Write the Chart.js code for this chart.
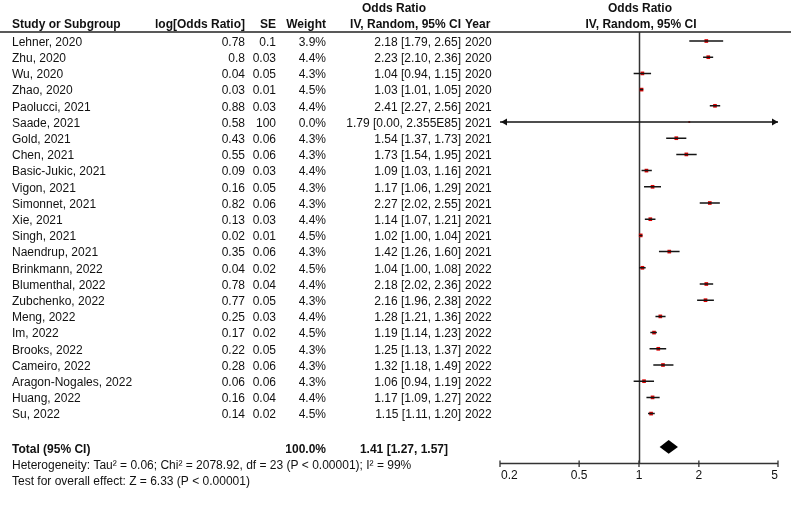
<!DOCTYPE html>
<html>
<head>
<meta charset="utf-8">
<script src="https://cdn.jsdelivr.net/npm/chart.js@4/dist/chart.umd.min.js"></script>
<style>
  html, body { margin: 0; padding: 0; background: #ffffff; }
  #wrap { width: 791px; height: 505px; position: relative; }
  canvas { display: block; }
</style>
</head>
<body>
<div id="wrap"><canvas id="c" width="791" height="505"></canvas></div>
<script>
const studies = ['Lehner, 2020','Zhu, 2020','Wu, 2020','Zhao, 2020','Paolucci, 2021','Saade, 2021','Gold, 2021','Chen, 2021','Basic-Jukic, 2021','Vigon, 2021','Simonnet, 2021','Xie, 2021','Singh, 2021','Naendrup, 2021','Brinkmann, 2022','Blumenthal, 2022','Zubchenko, 2022','Meng, 2022','Im, 2022','Brooks, 2022','Cameiro, 2022','Aragon-Nogales, 2022','Huang, 2022','Su, 2022'];
const logOR = [0.78,0.8,0.04,0.03,0.88,0.58,0.43,0.55,0.09,0.16,0.82,0.13,0.02,0.35,0.04,0.78,0.77,0.25,0.17,0.22,0.28,0.06,0.16,0.14];
const se = [0.1,0.03,0.05,0.01,0.03,100,0.06,0.06,0.03,0.05,0.06,0.03,0.01,0.06,0.02,0.04,0.05,0.03,0.02,0.05,0.06,0.06,0.04,0.02];
const weights = [3.9,4.4,4.3,4.5,4.4,0.0,4.3,4.3,4.4,4.3,4.3,4.4,4.5,4.3,4.5,4.4,4.3,4.4,4.5,4.3,4.3,4.3,4.4,4.5];
const oddsRatio = [2.18,2.23,1.04,1.03,2.41,1.79,1.54,1.73,1.09,1.17,2.27,1.14,1.02,1.42,1.04,2.18,2.16,1.28,1.19,1.25,1.32,1.06,1.17,1.15];
const ciLow = [1.79,2.10,0.94,1.01,2.27,0.00,1.37,1.54,1.03,1.06,2.02,1.07,1.00,1.26,1.00,2.02,1.96,1.21,1.14,1.13,1.18,0.94,1.09,1.11];
const ciHigh = [2.65,2.36,1.15,1.05,2.56,2.355e85,1.73,1.95,1.16,1.29,2.55,1.21,1.04,1.60,1.08,2.36,2.38,1.36,1.23,1.37,1.49,1.19,1.27,1.20];
const years = [2020,2020,2020,2020,2021,2021,2021,2021,2021,2021,2021,2021,2021,2021,2022,2022,2022,2022,2022,2022,2022,2022,2022,2022];
const totalOR = 1.41, totalLow = 1.27, totalHigh = 1.57;
const totalWeight = '100.0%';
const tickValues = [0.2, 0.5, 1, 2, 5];
const heterogeneityText = 'Heterogeneity: Tau\u00B2 = 0.06; Chi\u00B2 = 2078.92, df = 23 (P < 0.00001); I\u00B2 = 99%';
const overallText = 'Test for overall effect: Z = 6.33 (P < 0.00001)';

const X_MIN = 0.2, X_MAX = 5;
const FONT = '"Liberation Sans", Arial, Helvetica, sans-serif';
const INK = '#111111';

function fmtCI(v) {
  if (v >= 1e6) {
    const s = v.toExponential(3);
    return s.replace('e+', 'E').toUpperCase();
  }
  return v.toFixed(2);
}
function clampX(v) { return Math.min(X_MAX, Math.max(X_MIN, v)); }

const ciData = [];
studies.forEach((s, i) => {
  ciData.push({x: clampX(ciLow[i]), y: i});
  ciData.push({x: clampX(ciHigh[i]), y: i});
  ciData.push({x: NaN, y: null});
});
const pointData = studies.map((s, i) => ({x: oddsRatio[i], y: i}));
const pointRadii = weights.map(w => w > 0 ? 2.6 : 1.3);
const totalRow = studies.length + 1.15;

const tablePlugin = {
  id: 'forestTable',
  beforeDatasetsDraw(chart) {
    const ctx = chart.ctx, xs = chart.scales.x, area = chart.chartArea;
    ctx.save();
    ctx.strokeStyle = '#222';
    ctx.lineWidth = 1.3;
    ctx.beginPath();
    ctx.moveTo(0, area.top);
    ctx.lineTo(791, area.top);
    ctx.stroke();
    const x1 = Math.round(xs.getPixelForValue(1)) + 0.5;
    ctx.lineWidth = 1.5;
    ctx.strokeStyle = '#333';
    ctx.beginPath();
    ctx.moveTo(x1, area.top);
    ctx.lineTo(x1, area.bottom);
    ctx.stroke();
    ctx.restore();
  },
  afterDatasetsDraw(chart) {
    const ctx = chart.ctx, xs = chart.scales.x, ys = chart.scales.y, area = chart.chartArea;
    ctx.save();
    ctx.fillStyle = INK;
    ctx.textBaseline = 'middle';
    ctx.font = 'bold 12px ' + FONT;
    ctx.textAlign = 'left';
    ctx.fillText('Study or Subgroup', 12, 25);
    ctx.textAlign = 'right';
    ctx.fillText('log[Odds Ratio]', 245, 25);
    ctx.fillText('SE', 276, 25);
    ctx.fillText('Weight', 326, 25);
    ctx.fillText('IV, Random, 95% CI', 461, 25);
    ctx.textAlign = 'left';
    ctx.fillText('Year', 465, 25);
    ctx.textAlign = 'center';
    ctx.fillText('Odds Ratio', 394, 9);
    const xc = xs.getPixelForValue(1);
    ctx.fillText('Odds Ratio', xc + 1, 9);
    ctx.fillText('IV, Random, 95% CI', xc + 2, 25);

    ctx.font = '12px ' + FONT;
    studies.forEach((s, i) => {
      const y = ys.getPixelForValue(i) + 1.5;
      ctx.textAlign = 'left';
      ctx.fillText(s, 12, y);
      ctx.textAlign = 'right';
      ctx.fillText(String(logOR[i]), 245, y);
      ctx.fillText(String(se[i]), 276, y);
      ctx.fillText(weights[i].toFixed(1) + '%', 326, y);
      ctx.fillText(oddsRatio[i].toFixed(2) + ' [' + fmtCI(ciLow[i]) + ', ' + fmtCI(ciHigh[i]) + ']', 461, y);
      ctx.textAlign = 'left';
      ctx.fillText(String(years[i]), 465, y);
    });

    const ty = ys.getPixelForValue(totalRow) + 1.5;
    ctx.font = 'bold 12px ' + FONT;
    ctx.textAlign = 'left';
    ctx.fillText('Total (95% CI)', 12, ty);
    ctx.textAlign = 'right';
    ctx.fillText(totalWeight, 326, ty);
    ctx.fillText(totalOR.toFixed(2) + ' [' + totalLow.toFixed(2) + ', ' + totalHigh.toFixed(2) + ']', 448, ty);
    ctx.font = '12px ' + FONT;
    ctx.textAlign = 'left';
    ctx.fillText(heterogeneityText, 12, ty + 16);
    ctx.fillText(overallText, 12, ty + 31.5);

    const dy = ys.getPixelForValue(totalRow) - 1.5;
    const half = 6.8;
    ctx.fillStyle = '#000';
    ctx.beginPath();
    ctx.moveTo(xs.getPixelForValue(totalLow), dy);
    ctx.lineTo(xs.getPixelForValue(totalOR), dy - half);
    ctx.lineTo(xs.getPixelForValue(totalHigh), dy);
    ctx.lineTo(xs.getPixelForValue(totalOR), dy + half);
    ctx.closePath();
    ctx.fill();

    studies.forEach((s, i) => {
      const y = ys.getPixelForValue(i);
      ctx.fillStyle = '#111';
      if (ciLow[i] < X_MIN) {
        const x = xs.getPixelForValue(X_MIN) + 1;
        ctx.beginPath();
        ctx.moveTo(x, y);
        ctx.lineTo(x + 6, y - 3.5);
        ctx.lineTo(x + 6, y + 3.5);
        ctx.closePath();
        ctx.fill();
      }
      if (ciHigh[i] > X_MAX) {
        const x = xs.getPixelForValue(X_MAX);
        ctx.beginPath();
        ctx.moveTo(x, y);
        ctx.lineTo(x - 6, y - 3.5);
        ctx.lineTo(x - 6, y + 3.5);
        ctx.closePath();
        ctx.fill();
      }
    });

    const ay = Math.round(area.bottom) + 0.5;
    ctx.strokeStyle = '#333';
    ctx.lineWidth = 1.5;
    ctx.beginPath();
    ctx.moveTo(xs.getPixelForValue(X_MIN), ay);
    ctx.lineTo(xs.getPixelForValue(X_MAX), ay);
    ctx.stroke();
    ctx.lineWidth = 1.3;
    ctx.fillStyle = INK;
    ctx.font = '12px ' + FONT;
    tickValues.forEach((t, k) => {
      const x = xs.getPixelForValue(t);
      ctx.beginPath();
      ctx.moveTo(x, ay - 3);
      ctx.lineTo(x, ay + 3.5);
      ctx.stroke();
      ctx.textAlign = k === 0 ? 'left' : (k === tickValues.length - 1 ? 'right' : 'center');
      ctx.fillText(String(t), x + (k === 0 ? 1 : 0), ay + 12.5);
    });
    ctx.restore();
  }
};

new Chart(document.getElementById('c'), {
  type: 'scatter',
  data: {
    datasets: [
      {
        label: 'CI',
        data: ciData,
        showLine: true,
        spanGaps: false,
        borderColor: '#151515',
        borderWidth: 1.5,
        pointRadius: 0,
        pointHoverRadius: 0
      },
      {
        label: 'Odds Ratio',
        data: pointData,
        pointStyle: 'rect',
        pointRadius: pointRadii,
        backgroundColor: '#dd0000',
        borderColor: '#dd0000',
        borderWidth: 0
      }
    ]
  },
  options: {
    responsive: false,
    animation: false,
    devicePixelRatio: 1,
    layout: { padding: { left: 500, right: 13, top: 32, bottom: 42 } },
    plugins: { legend: { display: false }, tooltip: { enabled: false } },
    scales: {
      x: { type: 'logarithmic', min: X_MIN, max: X_MAX, display: false },
      y: { type: 'linear', min: -0.556, max: 26.05, reverse: true, display: false }
    }
  },
  plugins: [tablePlugin]
});
</script>
</body>
</html>
